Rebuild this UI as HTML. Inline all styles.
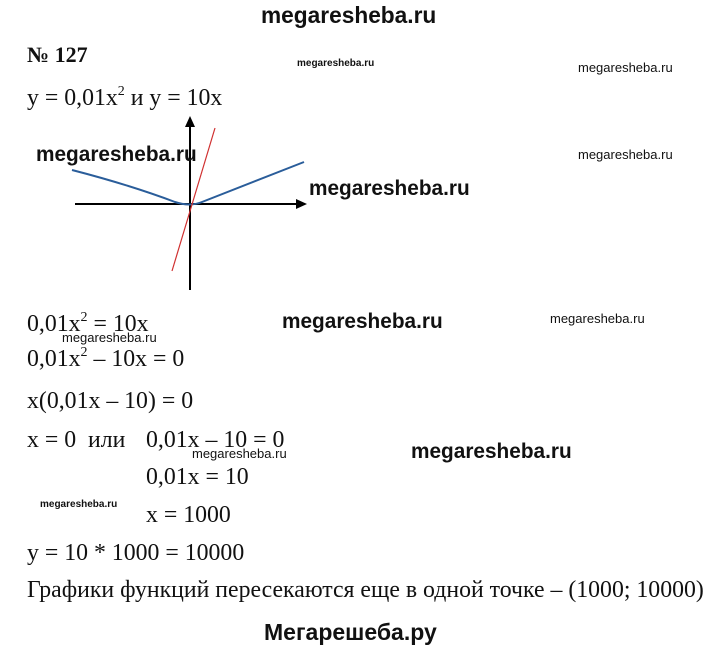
<!DOCTYPE html>
<html><head><meta charset="utf-8"><style>
body{margin:0;width:720px;height:653px;background:#fff;position:relative;overflow:hidden;font-family:"Liberation Serif",serif;color:#111}
.t{position:absolute;white-space:nowrap;font-size:23.8px;line-height:1}
.w{position:absolute;white-space:nowrap;font-family:"Liberation Sans",sans-serif;font-weight:bold;line-height:1}
.s{position:absolute;white-space:nowrap;font-family:"Liberation Sans",sans-serif;font-size:13px;line-height:1}
sup{font-size:14px;vertical-align:10px;line-height:0}
</style></head><body>
<div class="w" style="left:261px;top:4px;font-size:22.7px">megaresheba.ru</div>
<div class="t" style="left:27px;top:44px;font-weight:bold;font-size:22px">№ 127</div>
<div class="w" style="left:297px;top:59px;font-size:10px">megaresheba.ru</div>
<div class="s" style="left:578px;top:61px">megaresheba.ru</div>
<div class="t" style="left:27px;top:87px">y = 0,01x<sup>2</sup> и y = 10x</div>
<svg style="position:absolute;left:0;top:0" width="720" height="300">
<line x1="75" y1="204" x2="298" y2="204" stroke="#000" stroke-width="2"/>
<polygon points="307,204 296,199 296,209" fill="#000"/>
<line x1="190" y1="126" x2="190" y2="290" stroke="#000" stroke-width="2"/>
<polygon points="190,116 185,127 195,127" fill="#000"/>
<path d="M72,170 Q130,185 175,202 Q190,207 202,202 L304,162" fill="none" stroke="#2a5d9a" stroke-width="2"/>
<line x1="215" y1="128" x2="172" y2="271" stroke="#d03030" stroke-width="1.2"/>
</svg>
<div class="w" style="left:36px;top:145px;font-size:20.8px">megaresheba.ru</div>
<div class="s" style="left:578px;top:148px">megaresheba.ru</div>
<div class="w" style="left:309px;top:179px;font-size:20.8px">megaresheba.ru</div>
<div class="t" style="left:27px;top:313px">0,01x<sup>2</sup> = 10x</div>
<div class="w" style="left:282px;top:312px;font-size:20.8px">megaresheba.ru</div>
<div class="s" style="left:550px;top:312px">megaresheba.ru</div>
<div class="s" style="left:62px;top:331px">megaresheba.ru</div>
<div class="t" style="left:27px;top:348px">0,01x<sup>2</sup> – 10x = 0</div>
<div class="t" style="left:27px;top:390px">x(0,01x – 10) = 0</div>
<div class="t" style="left:27px;top:429px">x = 0&nbsp; или&nbsp;&nbsp;&nbsp;<span style="position:absolute;left:119px">0,01x – 10 = 0</span></div>
<div class="s" style="left:192px;top:447px">megaresheba.ru</div>
<div class="w" style="left:411px;top:442px;font-size:20.8px">megaresheba.ru</div>
<div class="t" style="left:146px;top:466px">0,01x = 10</div>
<div class="w" style="left:40px;top:500px;font-size:10px">megaresheba.ru</div>
<div class="t" style="left:146px;top:504px">x = 1000</div>
<div class="t" style="left:27px;top:542px">y = 10 * 1000 = 10000</div>
<div class="t" style="left:27px;top:579px">Графики функций пересекаются еще в одной точке – (1000; 10000)</div>
<div class="w" style="left:264px;top:621px;font-size:23px">Мегарешеба.ру</div>
</body></html>
